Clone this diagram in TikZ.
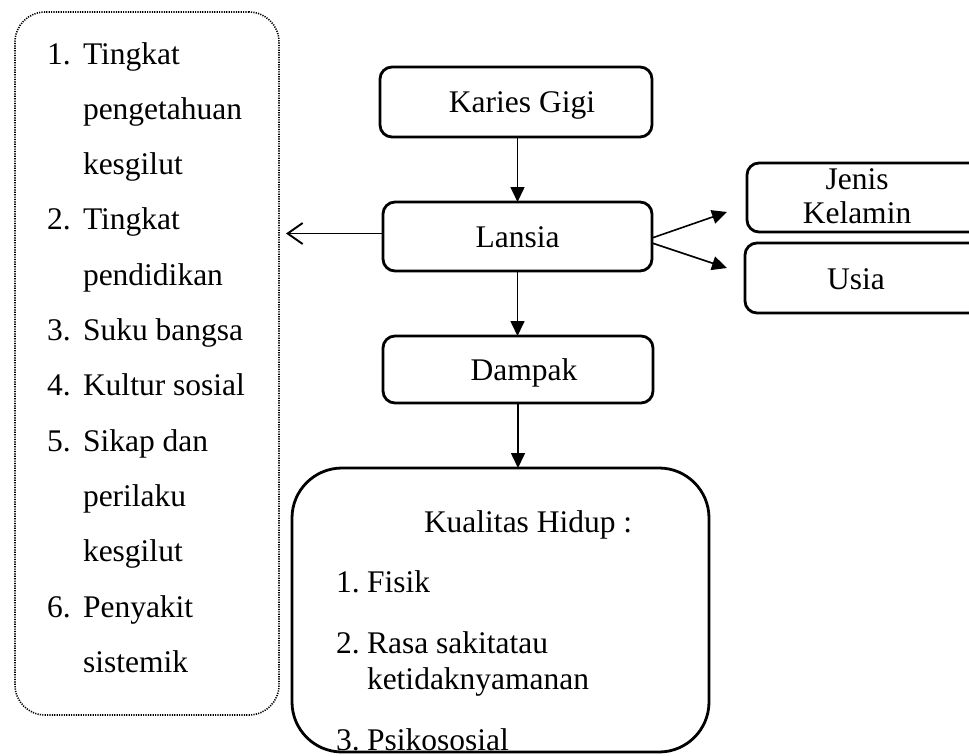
\documentclass[tikz,border=0pt]{standalone}
\usepackage{fontspec}
\setmainfont{Liberation Serif}
\usetikzlibrary{arrows.meta}
\begin{document}
\begin{tikzpicture}[x=1pt,y=-1pt,
  every node/.style={inner sep=0pt, outer sep=0pt, font=\fontsize{31.5}{36}\selectfont},
  box/.style={draw, line width=2.8pt, rounded corners=12pt},
  onebox/.style={box, text height=21pt, text depth=0pt},
  dotbox/.style={draw, line width=1.6pt, dash pattern=on 1.2pt off 1.2pt, rounded corners=30pt},
  bigbox/.style={draw, line width=2.8pt, rounded corners=50pt},
  txt/.style={anchor=base west},
  ctxt/.style={anchor=base},
  arr/.style={line width=1.6pt, -{Triangle[length=15pt,width=14pt]}},
  barb/.style={line width=1.9pt, -{Straight Barb[length=15pt,width=21pt]}}
]
\useasboundingbox (0,0) rectangle (969,755);
\clip (0,0) rectangle (969,755);

% left dotted box with factors
\node[dotbox, minimum width=264pt, minimum height=703pt] (factors) at (147,363.5) {};
\node[txt] (n1) at (47,64) {1.};
\node[txt] (l1) at (83,64) {Tingkat};
\node[txt] (l2) at (83,119.3) {pengetahuan};
\node[txt] (l3) at (83,174.6) {kesgilut};
\node[txt] (n2) at (47,229.9) {2.};
\node[txt] (l4) at (83,229.9) {Tingkat};
\node[txt] (l5) at (83,285.2) {pendidikan};
\node[txt] (n3) at (47,340.5) {3.};
\node[txt] (l6) at (83,340.5) {Suku bangsa};
\node[txt] (n4) at (47,395.8) {4.};
\node[txt] (l7) at (83,395.8) {Kultur sosial};
\node[txt] (n5) at (47,451.1) {5.};
\node[txt] (l8) at (83,451.1) {Sikap dan};
\node[txt] (l9) at (83,506.4) {perilaku};
\node[txt] (l10) at (83,561.7) {kesgilut};
\node[txt] (n6) at (47,617) {6.};
\node[txt] (l11) at (83,617) {Penyakit};
\node[txt] (l12) at (83,672.3) {sistemik};

% central chain
\node[onebox, minimum width=272pt, minimum height=70pt] (karies) at (516,102) {\hspace*{12pt}Karies Gigi};
\node[onebox, minimum width=269pt, minimum height=69pt] (lansia) at (517.5,236.5) {Lansia};
\node[onebox, minimum width=270pt, minimum height=67pt] (dampak) at (518,369.5) {\hspace*{12pt}Dampak};

% right boxes
\node[box, minimum width=253pt, minimum height=69pt] (jenis) at (873.5,197.5) {};
\node[ctxt] (jenis1) at (857,189) {Jenis};
\node[ctxt] (jenis2) at (857,223) {Kelamin};
\node[box, minimum width=255pt, minimum height=70pt] (usia) at (872.5,278) {};
\node[ctxt] (usiat) at (856,289) {Usia};

% quality of life box
\node[bigbox, minimum width=417pt, minimum height=284pt] (kualitas) at (500.5,610) {};
\node[txt] (kh) at (424,532) {Kualitas Hidup :};
\node[txt] (k1n) at (336,592) {1.};
\node[txt] (k1) at (367,592) {Fisik};
\node[txt] (k2n) at (336,653) {2.};
\node[txt] (k2) at (367,653) {Rasa sakitatau};
\node[txt] (k2b) at (367,689) {ketidaknyamanan};
\node[txt] (k3n) at (336,750) {3.};
\node[txt] (k3) at (367,750) {Psikososial};

% connectors
\coordinate (jtip) at (727,212);
\coordinate (utip) at (727,268);
\draw[arr] (lansia.north |- karies.south) -- (lansia.north);
\draw[arr] (lansia.south) -- (lansia.south |- dampak.north);
\draw[arr] (dampak.south) -- (dampak.south |- kualitas.north);
\draw[barb, shorten >=7pt] ([yshift=3pt]lansia.west) -- ([yshift=3pt]lansia.west -| factors.east);
\draw[arr] ([yshift=-1.5pt]lansia.east) -- (jtip);
\draw[arr] ([yshift=-6.5pt]lansia.east) -- (utip);
\end{tikzpicture}
\end{document}
